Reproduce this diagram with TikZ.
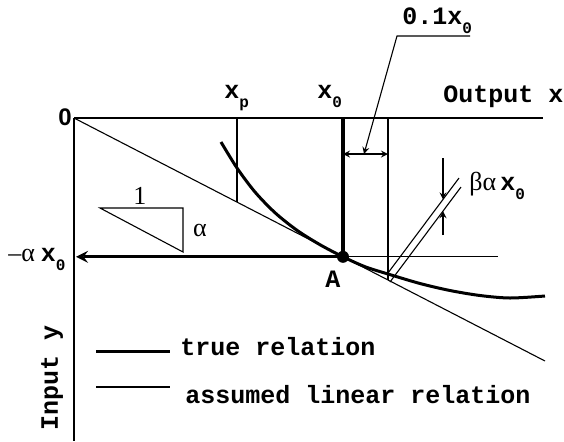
\documentclass[tikz,border=0pt]{standalone}
\usepackage{fontspec}
\setmainfont{Liberation Serif}
\setmonofont{Liberation Mono}
\newfontfamily\zerofont{Liberation Sans}
\newcommand{\lowsub}[1]{\raisebox{-4.5pt}{\fontsize{8}{8}\selectfont #1}}
\begin{document}
\begin{tikzpicture}[x=0.5pt,y=-0.5pt,>=stealth,
    mono/.style={font=\fontsize{12.5}{14}\selectfont\ttfamily\bfseries,inner sep=0pt},
    greek/.style={font=\fontsize{13}{14}\selectfont\rmfamily,inner sep=0pt},
    hairline/.style={line width=0.55pt},
    heavy/.style={line width=1.6pt},
    truecurve/.style={line width=1.5pt}]
    \useasboundingbox (0,0) rectangle (564,441);
    \coordinate (O) at (74,118);
    \coordinate (A) at (343,256.8);
    \coordinate (xend) at (543,118);
    \coordinate (yend) at (74,441);
    \draw[hairline] (O) -- (xend);
    \draw[hairline] (O) -- (yend);
    \draw[hairline] (O) -- (545,361);
    \draw[hairline] (237,118) -- (237,202.1);
    \draw[hairline] (388,118) -- (388,280);
    \draw[hairline] (A) -- (498,256.8);
    \draw[heavy] (343,118) -- (A);
    \coordinate (arrowend) at (76,256.8);
    \draw[heavy,->] (A) -- (arrowend);
    \fill (A) circle (6);
    \draw[truecurve] plot[smooth] coordinates {(221,142) (237,168) (255,192) (275,212.7) (297,230.3) (320,244.7) (343,256.8) (365,266.7) (388,274) (420,283.5) (450,290.5) (480,295.5) (510,298) (545,296)};
    % 0.1 x0
    \coordinate (dimleft) at (343,154);
    \coordinate (dimright) at (388,154);
    \draw[hairline,<->] (dimleft) -- (dimright);
    \node[mono,anchor=base west] (tenth) at (402,24) {0.1x\lowsub{0}};
    \coordinate (bend) at (397,36);
    \draw[hairline,->] (470,36) -- (bend) -- (364,154);
    % beta alpha x0
    \draw[hairline] (388,273) -- ++(71,-95);
    \draw[hairline] (390,282) -- ++(71,-95);
    \draw[hairline,->] (443,158) -- (443,199.4);
    \draw[hairline,->] (443,235) -- (443,211.2);
    \node[anchor=base west,inner sep=0pt] (bax) at (469,190) {\fontsize{13}{14}\selectfont\rmfamily βα\hspace{2pt}\fontsize{12.5}{14}\selectfont\ttfamily\bfseries x\lowsub{0}};
    % slope triangle
    \draw[hairline] (100,208) -- (183,208) -- (183,252) -- cycle;
    \node[greek] (one) at (140,196) {1};
    \node[greek] (alpha) at (200,230) {α};
    % labels
    \node[font=\fontsize{12}{12}\selectfont\zerofont\bfseries,inner sep=0pt] (zero) at (65,117) {0};
    \node[mono,anchor=base west] (xp) at (224,98) {x\lowsub{p}};
    \node[mono,anchor=base west] (xzero) at (317,98) {x\lowsub{0}};
    \node[mono,anchor=base west] (output) at (443,102) {Output x};
    \node[anchor=base east,inner sep=0pt] (minusax) at (66,261) {\fontsize{13}{14}\selectfont\rmfamily –α\hspace{3pt}\fontsize{12.5}{14}\selectfont\ttfamily\bfseries x\lowsub{0}};
    \node[mono] (Alabel) at (333,279) {A};
    \node[mono,rotate=90,anchor=base] (input) at (58,378) {Input y};
    % legend
    \coordinate (trueA) at (96,351);
    \coordinate (trueB) at (170,351);
    \draw[truecurve] (trueA) -- (trueB);
    \node[mono,anchor=base west] (truerel) at (180,355) {true relation};
    \coordinate (linA) at (96,387);
    \coordinate (linB) at (170,387);
    \draw[hairline] (linA) -- (linB);
    \node[mono,anchor=base west] (linrel) at (185,403) {assumed linear relation};
\end{tikzpicture}
\end{document}
